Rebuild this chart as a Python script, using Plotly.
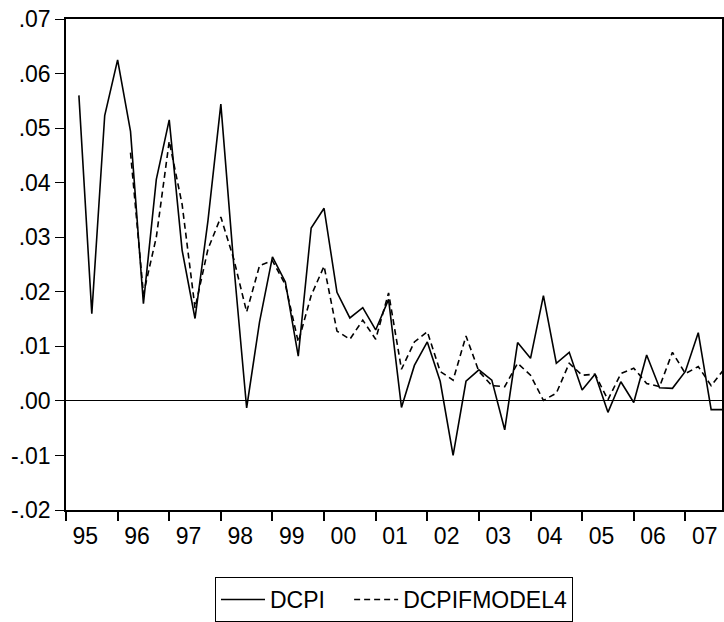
import plotly.graph_objects as go

# Quarterly observations, 1995Q1 onward
start_year = 1995
dcpi = [
    0.0560, 0.0160, 0.0523, 0.0625,   # 1995
    0.0494, 0.0178, 0.0406, 0.0515,   # 1996
    0.0276, 0.0151, 0.0330, 0.0544,   # 1997
    0.0250, -0.0013, 0.0145, 0.0264,  # 1998
    0.0218, 0.0082, 0.0317, 0.0353,   # 1999
    0.0199, 0.0152, 0.0171, 0.0130,   # 2000
    0.0186, -0.0012, 0.0065, 0.0108,  # 2001
    0.0036, -0.0100, 0.0036, 0.0057,  # 2002
    0.0038, -0.0053, 0.0107, 0.0078,  # 2003
    0.0193, 0.0069, 0.0089, 0.0020,   # 2004
    0.0049, -0.0021, 0.0035, -0.0003, # 2005
    0.0084, 0.0024, 0.0023, 0.0054,   # 2006
    0.0125, -0.0016, -0.0016,         # 2007
]

# Model forecast starts in 1996Q1
model_start_year = 1996
dcpif_model4 = [
    0.0455, 0.0196, 0.0300, 0.0476,   # 1996
    0.0360, 0.0170, 0.0278, 0.0337,   # 1997
    0.0260, 0.0163, 0.0248, 0.0257,   # 1998
    0.0213, 0.0108, 0.0193, 0.0247,   # 1999
    0.0128, 0.0113, 0.0148, 0.0113,   # 2000
    0.0198, 0.0058, 0.0108, 0.0127,   # 2001
    0.0054, 0.0038, 0.0119, 0.0054,   # 2002
    0.0028, 0.0026, 0.0069, 0.0047,   # 2003
    0.0001, 0.0014, 0.0069, 0.0047,   # 2004
    0.0049, 0.0002, 0.0050, 0.0060,   # 2005
    0.0032, 0.0026, 0.0089, 0.0050,   # 2006
    0.0063, 0.0028, 0.0058,           # 2007
]

y_tick_vals = [0.07, 0.06, 0.05, 0.04, 0.03, 0.02, 0.01, 0.00, -0.01, -0.02]
y_tick_text = [".07", ".06", ".05", ".04", ".03", ".02", ".01", ".00", "-.01", "-.02"]
years = list(range(1995, 2008))
year_labels = ["95", "96", "97", "98", "99", "00", "01", "02", "03", "04", "05", "06", "07"]


def quarter_positions(first_year, n):
    return [first_year + i / 4 for i in range(n)]


x_dcpi = quarter_positions(start_year, len(dcpi))
x_model = quarter_positions(model_start_year, len(dcpif_model4))

FONT = "Liberation Sans, Arial, sans-serif"
FSIZE = 23
PAD = "\u00a0" * 3  # extra room after the first legend entry

fig = go.Figure()
fig.add_trace(go.Scatter(
    x=x_dcpi, y=dcpi, mode="lines", name="DCPI" + PAD,
    line=dict(color="black", width=1.6),
))
fig.add_trace(go.Scatter(
    x=x_model, y=dcpif_model4, mode="lines", name="DCPIFMODEL4",
    line=dict(color="black", width=1.6, dash="6px,4px"),
))
# invisible trace carrying the year labels on the overlaid axis
fig.add_trace(go.Scatter(
    x=[years[0]], y=[0], xaxis="x2", mode="markers",
    marker=dict(opacity=0), showlegend=False, hoverinfo="skip",
))

x_range = [1994.75, 2007.46]

fig.update_layout(
    width=724, height=622,
    margin=dict(l=66, r=0, t=19, b=108),
    paper_bgcolor="white", plot_bgcolor="white",
    font=dict(family=FONT, size=FSIZE, color="black"),
    showlegend=True,
    legend=dict(
        orientation="h", x=0.5, xanchor="center", y=-0.137, yanchor="top",
        bordercolor="black", borderwidth=1, bgcolor="white",
        font=dict(size=FSIZE), itemwidth=44, tracegroupgap=0,
    ),
    xaxis=dict(
        range=x_range, showgrid=False, zeroline=False,
        showline=True, linecolor="black", linewidth=2, mirror=True,
        tickmode="array", tickvals=[y - 0.25 for y in years],
        ticktext=["" for _ in years],
        ticks="outside", ticklen=9, tickwidth=1.5, tickcolor="black",
    ),
    xaxis2=dict(
        range=x_range, overlaying="x", side="bottom", anchor="y",
        showgrid=False, zeroline=False, showline=False,
        tickmode="array", tickvals=[y + 0.125 for y in years],
        ticktext=year_labels, ticks="", ticklabelstandoff=10,
        tickfont=dict(size=FSIZE),
    ),
    yaxis=dict(
        range=[-0.02, 0.07], showgrid=False,
        zeroline=True, zerolinecolor="black", zerolinewidth=1,
        showline=True, linecolor="black", linewidth=1.5, mirror=True,
        tickmode="array", tickvals=y_tick_vals, ticktext=y_tick_text,
        ticks="outside", ticklen=9, tickwidth=1, tickcolor="black",
        tickfont=dict(size=FSIZE),
    ),
)

fig.write_html("out.html")
